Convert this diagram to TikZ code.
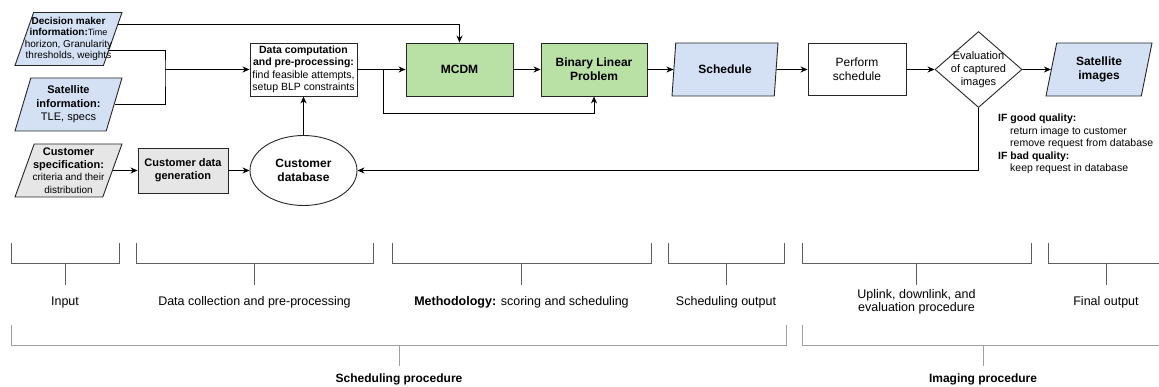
\documentclass[tikz,border=0pt]{standalone}
\usepackage{fontspec}
\setmainfont{Liberation Sans}
\usetikzlibrary{shapes.geometric,arrows.meta}

\definecolor{inblue}{HTML}{D4E1F5}
\definecolor{methgreen}{HTML}{B9E0A5}
\definecolor{custgray}{HTML}{E6E6E6}
\definecolor{bracedark}{HTML}{5E5E5E}
\definecolor{bracelight}{HTML}{A0A0A0}
\newcommand{\fsz}[2]{\fontsize{#1}{#2}\selectfont}

\tikzset{
  block/.style={draw=black!85, line width=0.9pt, minimum width=107, minimum height=53,
    inner sep=0pt, align=center, font=\bfseries\fsz{12}{14}},
  method/.style={block, fill=methgreen},
  datain/.style={trapezium, trapezium left angle=67, trapezium right angle=113,
    trapezium stretches body, draw=black!85, line width=0.9pt, fill=inblue,
    minimum width=107, minimum height=53, inner xsep=-12pt, inner ysep=0pt, align=center},
  evalnode/.style={diamond, draw=black!85, line width=0.9pt, minimum width=87, minimum height=76,
    inner xsep=-10pt, inner ysep=-6pt, align=center, font=\fsz{11}{13}},
  flow/.style={-{Stealth[length=7pt,width=6pt]}, line width=0.9pt},
  line/.style={line width=0.9pt},
  smallbrace/.style={draw=bracedark, line width=0.9pt},
  bigbrace/.style={draw=bracelight, line width=1pt},
  phase/.style={font=\fsz{12.5}{13.5}, align=center, inner sep=0pt}
}

\begin{document}
\begin{tikzpicture}[x=1pt,y=-1pt]
\useasboundingbox (0,0) rectangle (1159,387);

% inputs
\node[datain, font=\fsz{10}{11.5}] (dmi) at (68.5,39) {\textbf{Decision maker}\\\textbf{information:}{\fsz{9}{11.5}Time}\\horizon, Granularity\\thresholds, weights};
\node[datain, font=\fsz{11}{13.5}] (sat) at (68.5,104.5) {\textbf{Satellite}\\\textbf{information:}\\TLE, specs};
\node[datain, fill=custgray, font=\fsz{11}{12.5}] (cspec) at (68.5,170.5) {\textbf{Customer}\\\textbf{specification:}\\{\fsz{10}{12.5}criteria and their}\\{\fsz{10}{12.5}distribution}};

% data collection
\node[block, fill=custgray, minimum width=90, minimum height=45, font=\bfseries\fsz{11}{13}] (cgen) at (183,170.5) {Customer data\\generation};
\node[block, ellipse, minimum width=107, minimum height=70] (db) at (303.5,170.5) {Customer\\database};
\node[block, font=\fsz{10.5}{12.5}] (dcp) at (303.5,69.5) {\textbf{Data computation}\\\textbf{and pre-processing:}\\find feasible attempts,\\setup BLP constraints};

% methodology
\node[method] (mcdm) at (459.5,69.5) {MCDM};
\node[method, minimum width=106] (blp) at (594,69.5) {Binary Linear\\Problem};
\node[datain, minimum width=106, font=\bfseries\fsz{12}{14}] (sched) at (725,69.5) {Schedule};

% imaging
\node[block, font=\fsz{12}{14}, minimum width=98, minimum height=52] (perf) at (857,69.5) {Perform\\schedule};
\node[evalnode] (eval) at (978.5,69.5) {Evaluation\\of captured\\images};
\node[datain, minimum width=106, font=\bfseries\fsz{12}{14}] (simg) at (1099,69.5) {Satellite\\images};
\node[anchor=north west, align=left, font=\fsz{10.5}{12.4}, inner sep=0pt] (rule) at (998,114) {\textbf{IF good quality:}\\\hspace*{12pt}return image to customer\\\hspace*{12pt}remove request from database\\\textbf{IF bad quality:}\\\hspace*{12pt}keep request in database};

% connectors
\coordinate (join) at (165,69.5);
\coordinate (split) at (383,69.5);
\draw[flow] (dmi.16) -| (mcdm.north);
\draw[line] (dmi.-16) -| (join) |- (sat.east);
\draw[flow] (join) -- (dcp.west);
\draw[flow] (dcp.east) -- (mcdm.west);
\draw[flow] (split) -- ++(0,43.5) -| (blp.south);
\draw[flow] (mcdm) -- (blp);
\draw[flow] (blp) -- (sched);
\draw[flow] (sched) -- (perf);
\draw[flow] (perf) -- (eval);
\draw[flow] (eval) -- (simg);
\draw[flow] (eval.south) |- (db.east);
\draw[flow] (cspec) -- (cgen);
\draw[flow] (cgen) -- (db);
\draw[flow] (db) -- (dcp);

% phases
\foreach \l/\r/\m in {11/119/65, 136/373/254.5, 392/651/521.5, 668/784/726, 802/1031/916.5, 1048/1170/1106}
  \draw[smallbrace] (\l,243) -- (\l,263) -- (\r,263) -- (\r,243) (\m,263) -- (\m,285);
\foreach \l/\r/\m in {11/786/399, 802/1170/983}
  \draw[bigbrace] (\l,325) -- (\l,345) -- (\r,345) -- (\r,325) (\m,345) -- (\m,366);

\node[phase] (lin) at (65,302) {Input};
\node[phase] (lcol) at (254.5,302) {Data collection and pre-processing};
\node[phase] (lmeth) at (521.5,302) {\textbf{Methodology:} scoring and scheduling};
\node[phase] (lout) at (726,302) {Scheduling output};
\node[phase] (llink) at (916.5,302) {Uplink, downlink, and\\evaluation procedure};
\node[phase] (lfin) at (1106,302) {Final output};
\node[phase, font=\bfseries\fsz{12}{14}] (lsched) at (399,379) {Scheduling procedure};
\node[phase, font=\bfseries\fsz{12}{14}] (limg) at (983,379) {Imaging procedure};
\end{tikzpicture}
\end{document}
